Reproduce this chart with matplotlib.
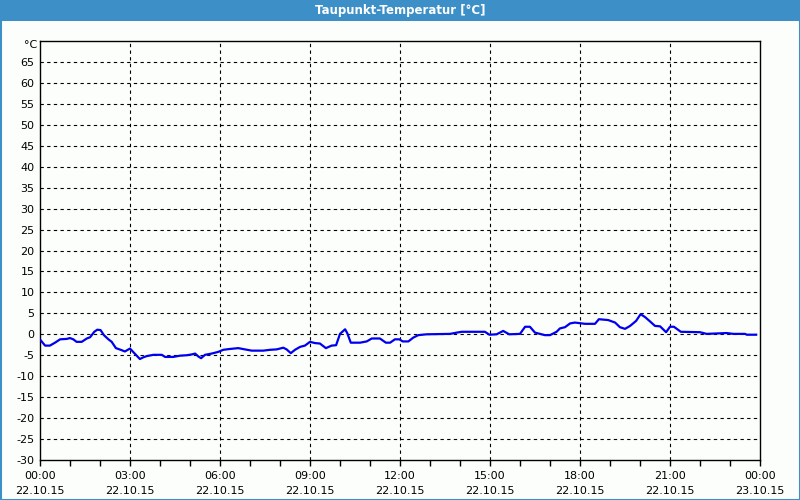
import matplotlib
matplotlib.use("Agg")
import matplotlib.pyplot as plt
from matplotlib.patches import Rectangle
from matplotlib.ticker import MultipleLocator

title = "Taupunkt-Temperatur [°C]"

# time in hours since 22.10.15 00:00
hours = [0.02, 0.17, 0.33, 0.50, 0.67, 0.89, 1.00, 1.11, 1.22, 1.39, 1.56, 1.67,
         1.81, 1.91, 2.02, 2.13, 2.28, 2.39, 2.53, 2.69, 2.83, 3.00, 3.17, 3.33,
         3.44, 3.56, 3.78, 4.06, 4.17, 4.44, 4.67, 4.89, 5.06, 5.17, 5.28, 5.37,
         5.50, 5.72, 5.94, 6.11, 6.33, 6.61, 6.83, 7.06, 7.44, 7.67, 7.89, 8.11,
         8.22, 8.36, 8.50, 8.67, 8.83, 9.00, 9.17, 9.33, 9.53, 9.72, 9.87, 10.00,
         10.17, 10.24, 10.36, 10.67, 10.89, 11.06, 11.33, 11.53, 11.67, 11.83, 11.98,
         12.09, 12.28, 12.44, 12.61, 12.89, 13.67, 13.89, 14.06, 14.44, 14.83, 14.98,
         15.22, 15.44, 15.64, 16.00, 16.17, 16.33, 16.50, 16.83, 17.00, 17.22, 17.33,
         17.50, 17.67, 17.83, 18.17, 18.50, 18.63, 18.94, 19.17, 19.33, 19.50, 19.67,
         19.87, 20.02, 20.17, 20.33, 20.50, 20.67, 20.87, 21.00, 21.13, 21.36, 22.00,
         22.22, 22.89, 23.11, 23.50, 23.56, 23.87]
dew = [-1.4, -2.7, -2.7, -2.0, -1.2, -1.1, -0.9, -1.2, -1.8, -1.8, -1.0, -0.7,
       0.6, 1.1, 1.0, -0.2, -1.2, -1.8, -3.3, -3.7, -4.1, -3.4, -4.7, -5.9,
       -5.5, -5.2, -4.9, -4.9, -5.4, -5.4, -5.1, -5.0, -4.8, -4.6, -5.3, -5.7,
       -4.9, -4.6, -4.2, -3.7, -3.5, -3.3, -3.6, -3.9, -3.9, -3.7, -3.6, -3.2,
       -3.6, -4.5, -3.7, -3.0, -2.7, -1.8, -2.1, -2.2, -3.3, -2.7, -2.6, 0.1,
       1.2, 0.3, -2.0, -2.0, -1.7, -1.0, -1.0, -2.0, -2.0, -1.2, -1.2,
       -1.7, -1.7, -0.8, -0.2, 0.0, 0.1, 0.4, 0.6, 0.6, 0.6, -0.1,
       0.0, 0.8, 0.0, 0.1, 1.8, 1.8, 0.4, -0.2, -0.2, 0.6, 1.4,
       1.7, 2.6, 2.8, 2.5, 2.5, 3.6, 3.4, 2.8, 1.7, 1.3, 2.0,
       3.2, 4.8, 4.1, 3.1, 2.0, 1.9, 0.5, 1.8, 1.8, 0.6, 0.5,
       0.1, 0.3, 0.1, 0.1, -0.1, -0.1]

y_ticks = list(range(-30, 66, 5))
y_labels = [str(v) for v in y_ticks]
unit_label = "°C"
x_ticks = list(range(0, 25, 3))
x_labels = ["00:00\n22.10.15", "03:00\n22.10.15", "06:00\n22.10.15", "09:00\n22.10.15",
            "12:00\n22.10.15", "15:00\n22.10.15", "18:00\n22.10.15", "21:00\n22.10.15",
            "00:00\n23.10.15"]

blue_bar = "#3c8fc7"

fig = plt.figure(figsize=(8, 5), dpi=100, facecolor="#fcfefc")
# title bar and border
fig.patches.append(Rectangle((0, 1 - 21 / 500), 1, 21 / 500, transform=fig.transFigure,
                             facecolor=blue_bar, edgecolor="none", zorder=0))
fig.patches.append(Rectangle((0.5 / 800, 0.5 / 500), 1 - 1 / 800, 1 - 1 / 500,
                             transform=fig.transFigure, facecolor="none",
                             edgecolor=blue_bar, linewidth=1.5, zorder=1))
fig.text(0.5, 1 - 10.5 / 500, title, color="white", ha="center", va="center",
         fontsize=8.5, fontweight="bold", family="DejaVu Sans")

ax = fig.add_axes([40 / 800, 40 / 500, 720 / 800, 419 / 500])
ax.set_facecolor("#fcfefc")
ax.plot(hours, dew, color="#0000ee", linewidth=1.6, zorder=3)

ax.set_xlim(0, 24)
ax.set_ylim(-30, 70)
ax.set_yticks(y_ticks)
ax.set_yticklabels(y_labels)
ax.set_xticks(x_ticks)
ax.set_xticklabels(x_labels, linespacing=1.55)
ax.xaxis.set_minor_locator(MultipleLocator(1))
ax.text(-0.004, 69.0, unit_label, transform=ax.get_yaxis_transform(),
        ha="right", va="center", fontsize=8)

ax.tick_params(axis="y", length=0, pad=4, labelsize=8, colors="black")
ax.tick_params(axis="x", which="both", length=4, direction="out", width=1,
               pad=4, labelsize=8)

for v in y_ticks[1:]:
    ax.axhline(v, color="black", linestyle=(0, (3, 3)), linewidth=0.8, zorder=1)
for h in x_ticks[1:-1]:
    ax.axvline(h, color="black", linestyle=(0, (3, 3)), linewidth=0.8, zorder=1)

for s in ax.spines.values():
    s.set_color("black")
    s.set_linewidth(1)

fig.savefig("out.png", dpi=100, facecolor=fig.get_facecolor())
